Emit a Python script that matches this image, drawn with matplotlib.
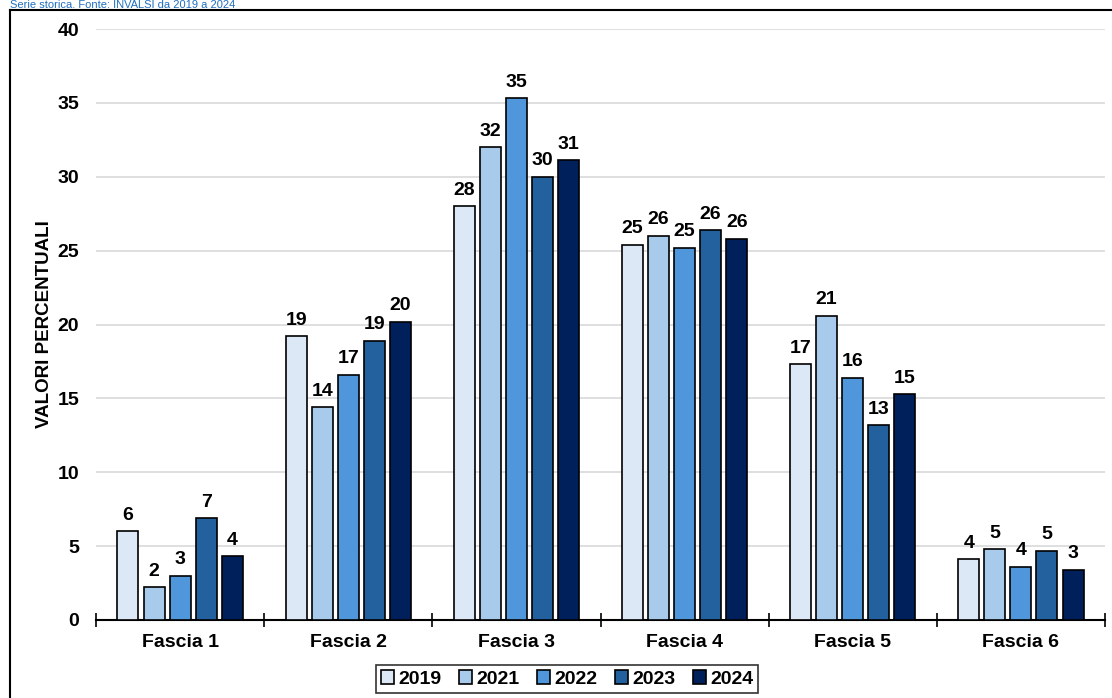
import matplotlib
matplotlib.use("Agg")
import matplotlib.pyplot as plt
import numpy as np
from matplotlib.lines import Line2D

plt.rcParams['font.family'] = ['Liberation Sans', 'DejaVu Sans']

categories = ["Fascia 1", "Fascia 2", "Fascia 3", "Fascia 4", "Fascia 5", "Fascia 6"]
years = ["2019", "2021", "2022", "2023", "2024"]
v2019 = [6.0, 19.2, 28.0, 25.4, 17.3, 4.1]
v2021 = [2.2, 14.4, 32.0, 26.0, 20.6, 4.8]
v2022 = [3.0, 16.6, 35.3, 25.2, 16.4, 3.6]
v2023 = [6.9, 18.9, 30.0, 26.4, 13.2, 4.7]
v2024 = [4.3, 20.2, 31.1, 25.8, 15.3, 3.4]
series = [v2019, v2021, v2022, v2023, v2024]
colors = ["#DCE8F6", "#A9CBEB", "#5096DA", "#22609E", "#00205C"]

fig = plt.figure(figsize=(11.12, 6.98), dpi=100)
ax = fig.add_axes([96/1112, 1-620/698, (1105-96)/1112, (620-29)/698])

x = np.arange(len(categories))
pitch = 0.155
width = 0.125
for i, (vals, col, yr) in enumerate(zip(series, colors, years)):
    pos = x + (i - 2) * pitch
    bars = ax.bar(pos, vals, width, color=col, edgecolor="black", linewidth=1.2,
                  label=yr, zorder=3)
    for b, v in zip(bars, vals):
        ax.text(b.get_x() + b.get_width()/2, v + 0.5, f"{v:.0f}", ha="center",
                va="bottom", fontsize=14, fontweight="bold")

ax.set_xlim(-0.5, len(categories) - 0.5)
ax.set_ylim(0, 40)
ax.set_yticks(range(0, 41, 5))
ax.yaxis.grid(True, color="#d9d9d9", linewidth=1.2, zorder=0)
ax.set_axisbelow(True)
for s in ["left", "right", "top"]:
    ax.spines[s].set_visible(False)
ax.spines["bottom"].set_linewidth(1.5)
ax.tick_params(axis="y", length=0, pad=12, labelsize=14)
for t in ax.get_yticklabels():
    t.set_fontweight("bold")

ax.set_xticks(np.arange(-0.5, len(categories), 1.0))
ax.set_xticklabels([])
ax.tick_params(axis="x", which="major", direction="inout", length=10, width=1.2)
ax.set_xticks(x, minor=True)
ax.set_xticklabels(categories, minor=True, fontsize=14, fontweight="bold")
ax.tick_params(axis="x", which="minor", length=0, pad=10)

ax.set_ylabel("VALORI PERCENTUALI", fontsize=13.5, fontweight="bold", labelpad=3)

leg = ax.legend(loc="center", bbox_to_anchor=(567/1112, 1-679/698),
                bbox_transform=fig.transFigure, ncol=5, frameon=True, fancybox=False,
                edgecolor="black", handlelength=0.7, handleheight=0.7,
                handletextpad=0.2, columnspacing=0.9, borderpad=0.25,
                prop={"weight": "bold", "size": 14})
leg.get_frame().set_linewidth(1.2)

# outer frame, partly outside the picture
fig.add_artist(Line2D([10/1112, 10/1112], [0, 1-10/698], color="black", linewidth=1.5))
fig.add_artist(Line2D([10/1112, 1], [1-10/698, 1-10/698], color="black", linewidth=1.5))

fig.text(10/1112, 1-0.5/698, "Serie storica. Fonte: INVALSI da 2019 a 2024",
         color="#1F6FC0", fontsize=8, va="top", ha="left")

fig.savefig("out.png", dpi=100)
